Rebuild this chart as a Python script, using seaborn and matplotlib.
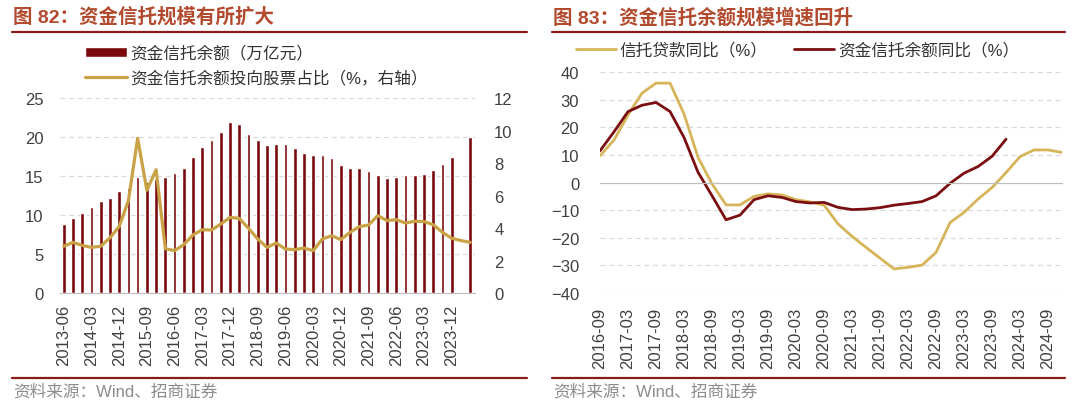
import matplotlib
matplotlib.use("Agg")
import matplotlib.pyplot as plt
import seaborn as sns
import pandas as pd
import numpy as np
from matplotlib.lines import Line2D

# ---- data: left chart (quarterly, 2013-06 .. 2024-06) ----
trust_quarters = list(pd.date_range("2013-06-30", "2024-06-30", freq="QE").strftime("%Y-%m"))
trust_balance = [8.9, 9.6, 10.3, 11.1, 11.8, 12.2, 13.1, 13.5, 14.9, 14.3,
                 14.7, 14.9, 15.4, 16.1, 17.5, 18.8, 19.6, 20.7, 22.0, 21.7,
                 20.4, 19.6, 19.0, 19.1, 19.1, 18.6, 18.0, 17.7, 17.7, 17.3,
                 16.4, 16.0, 16.0, 15.7, 15.1, 14.8, 14.9, 15.1, 15.1, 15.3,
                 15.8, 16.5, 17.5, np.nan, 20.0]
stock_share = [2.88, 3.12, 2.93, 2.81, 2.88, 3.40, 4.10, 5.69, 9.53, 6.33,
               7.60, 2.73, 2.61, 2.98, 3.58, 3.90, 3.88, 4.25, 4.66, 4.60,
               3.99, 3.33, 2.81, 3.08, 2.71, 2.67, 2.77, 2.61, 3.33, 3.53,
               3.29, 3.74, 4.09, 4.19, 4.77, 4.46, 4.52, 4.31, 4.42, 4.40,
               4.21, 3.74, 3.37, 3.23, 3.12]

# ---- data: right chart (quarterly, 2016-09 .. 2024-12) ----
yoy_quarters = list(pd.date_range("2016-09-30", "2024-12-31", freq="QE").strftime("%Y-%m"))
loan_yoy = [9.7, 15.4, 24.5, 32.4, 36.0, 36.0, 24.8, 9.1, -0.5, -8.1,
            -8.1, -5.0, -4.1, -4.5, -6.2, -7.0, -8.2, -15.0, -19.5, -23.5,
            -27.4, -31.3, -30.7, -29.9, -25.3, -14.5, -10.8, -6.0, -1.8, 3.6,
            9.4, 11.8, 11.8, 10.9]
trust_yoy = [11.5, 18.4, 25.7, 28.0, 29.0, 25.7, 16.3, 3.7, -4.8, -13.5,
             -11.8, -6.2, -4.8, -5.4, -6.9, -7.4, -7.2, -9.0, -9.8, -9.6,
             -9.1, -8.2, -7.6, -6.9, -4.8, -0.3, 3.4, 5.8, 9.5, 15.7,
             np.nan, np.nan, np.nan, np.nan]

bar_color = "#7A0A0D"
gold_left = "#C9A246"
gold_right = "#D6B55A"
red_line = "#7B0E10"
title_color = "#B24A2E"
rule_color = "#8B1A1A"
grid_color = "#D9D9D9"
tick_color = "#404040"

sns.set_style("white")
plt.rcParams["font.family"] = ["Liberation Sans", "Noto Sans CJK SC"]

fig = plt.figure(figsize=(10.8, 4.02), dpi=100)

# ---------------- left chart ----------------
left = pd.DataFrame({"pos": np.arange(len(trust_quarters)),
                     "balance": trust_balance,
                     "share": stock_share})
ax1 = fig.add_axes([0.0556, 0.2687, 0.384, 0.4843])
sns.barplot(data=left.dropna(subset=["balance"]), x="pos", y="balance",
            native_scale=True, width=0.4, color=bar_color, saturation=1,
            ax=ax1, label="资金信托余额（万亿元）")
if ax1.get_legend() is not None:
    ax1.get_legend().remove()
ax1.set_ylim(0, 25)
ax1.set_yticks(range(0, 26, 5))
ax1.yaxis.grid(True, color=grid_color, linestyle=(0, (4, 3)), linewidth=0.9)
ax1.set_axisbelow(True)

ax1r = ax1.twinx()
sns.lineplot(data=left, x="pos", y="share", color=gold_left, linewidth=2.3,
             ax=ax1r, label="资金信托余额投向股票占比（%，右轴）", legend=False)
ax1r.set_ylim(0, 12)
ax1r.set_yticks(range(0, 13, 2))
ax1.set_xlim(-0.4, 44.5)
ax1.set_xticks(range(0, 43, 3), labels=trust_quarters[0:43:3], rotation=90)

for a in (ax1, ax1r):
    a.set_xlabel("")
    a.set_ylabel("")
    for s in ("top", "left", "right"):
        a.spines[s].set_visible(False)
    a.spines["bottom"].set_color("#BFBFBF")
ax1r.spines["bottom"].set_visible(False)
ax1.tick_params(axis="x", length=0, pad=8, labelsize=12, labelcolor=tick_color)
ax1.tick_params(axis="y", length=0, pad=12, labelsize=12, labelcolor=tick_color)
ax1r.tick_params(axis="y", length=0, pad=14, labelsize=12, labelcolor=tick_color)

h1, l1 = ax1.get_legend_handles_labels()
h2, l2 = ax1r.get_legend_handles_labels()
fig.legend(h1 + h2, l1 + l2, loc="upper left", bbox_to_anchor=(0.079, 0.886),
           frameon=False, fontsize=12, handlelength=2.5, handleheight=0.5,
           handletextpad=0.2, labelspacing=0.5, borderpad=0, borderaxespad=0,
           labelcolor="#333333")

# ---------------- right chart ----------------
right = pd.DataFrame({"pos": np.arange(len(yoy_quarters)),
                      "loan": loan_yoy, "trust": trust_yoy})
ax2 = fig.add_axes([0.5556, 0.2687, 0.4278, 0.5495])
sns.lineplot(data=right, x="pos", y="loan", color=gold_right, linewidth=2.0,
             ax=ax2, label="信托贷款同比（%）")
sns.lineplot(data=right.dropna(subset=["trust"]), x="pos", y="trust",
             color=red_line, linewidth=2.0, ax=ax2, label="资金信托余额同比（%）")
ax2.set_ylim(-40, 40)
ax2.set_yticks(range(-40, 41, 10))
ax2.set_xlim(0, 33)
ax2.yaxis.grid(True, color=grid_color, linestyle=(0, (4, 3)), linewidth=0.9)
ax2.set_axisbelow(True)
ax2.set_xlabel("")
ax2.set_ylabel("")
for s in ("top", "left", "right"):
    ax2.spines[s].set_visible(False)
ax2.spines["bottom"].set_position(("data", 0))
ax2.spines["bottom"].set_color("#BFBFBF")
ax2.set_xticks(range(0, 33, 2))
ax2.tick_params(axis="x", labelbottom=False, length=4, width=0.8,
                color="#BFBFBF", direction="out")
ax2.tick_params(axis="y", length=0, pad=15, labelsize=12, labelcolor=tick_color)

sec = ax2.secondary_xaxis("bottom")
sec.set_xticks(range(0, 33, 2), labels=yoy_quarters[0:33:2], rotation=90)
sec.tick_params(length=0, pad=10, labelsize=12, labelcolor=tick_color)
sec.spines["bottom"].set_visible(False)

ax2.legend(loc="upper left", bbox_to_anchor=(0.533, 0.893),
           bbox_transform=fig.transFigure, ncol=2, frameon=False, fontsize=12,
           handlelength=2.4, handletextpad=0.25, columnspacing=1.6,
           borderpad=0, borderaxespad=0, labelcolor="#333333")

# ---------------- titles, rules, sources ----------------
fig.text(0.012, 0.957, "图 82：资金信托规模有所扩大", fontsize=14, fontweight="bold",
         color=title_color, va="center", ha="left")
fig.text(0.512, 0.957, "图 83：资金信托余额规模增速回升", fontsize=14, fontweight="bold",
         color=title_color, va="center", ha="left")
for x0, x1 in ((0.011, 0.488), (0.511, 0.986)):
    fig.add_artist(Line2D([x0, x1], [0.919, 0.919], transform=fig.transFigure,
                          color=rule_color, linewidth=1.6))
    fig.add_artist(Line2D([x0, x1], [0.056, 0.056], transform=fig.transFigure,
                          color=rule_color, linewidth=1.6))
fig.text(0.012, 0.024, "资料来源：Wind、招商证券", fontsize=12, color="#8C8C8C",
         va="center", ha="left")
fig.text(0.512, 0.024, "资料来源：Wind、招商证券", fontsize=12, color="#8C8C8C",
         va="center", ha="left")

fig.savefig("out.png", dpi=100)
